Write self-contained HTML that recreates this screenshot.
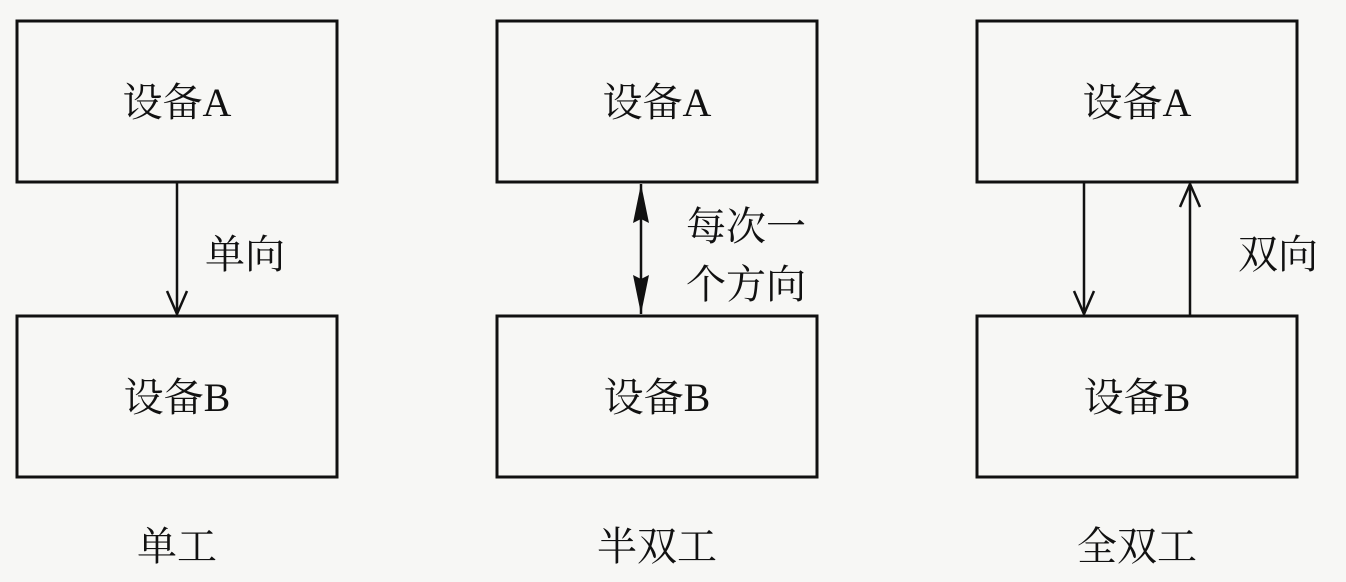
<!DOCTYPE html>
<html><head><meta charset="utf-8"><style>
body{margin:0;background:#f7f7f5;}
svg{display:block}
text{font-family:"Liberation Serif","Noto Serif CJK SC","Noto Sans CJK SC",serif;font-size:40px;fill:#111;}
</style></head><body>
<svg width="1346" height="582" viewBox="0 0 1346 582">
<g fill="none" stroke="#111" stroke-width="3">
<rect x="17" y="21" width="320" height="161"/>
<rect x="17" y="316" width="320" height="161"/>
<rect x="497" y="21" width="320" height="161"/>
<rect x="497" y="316" width="320" height="161"/>
<rect x="977" y="21" width="320" height="161"/>
<rect x="977" y="316" width="320" height="161"/>
</g>
<g stroke="#111" stroke-width="2.5" fill="none">
<line x1="177" y1="182" x2="177" y2="314"/>
<path d="M167 291 L177 314 L187 291"/>
<line x1="641" y1="184" x2="641" y2="314"/>
<line x1="1084" y1="182" x2="1084" y2="314"/>
<path d="M1074 291 L1084 314 L1094 291"/>
<line x1="1190" y1="316" x2="1190" y2="184"/>
<path d="M1180 207 L1190 184 L1200 207"/>
</g>
<g fill="#111">
<path d="M641 184 L649 223 L641 219 L633 223 Z"/>
<path d="M641 314 L649 275 L641 279 L633 275 Z"/>
</g>
<g text-anchor="middle">
<text x="177" y="116">设备A</text>
<text x="177" y="411">设备B</text>
<text x="657" y="116">设备A</text>
<text x="657" y="411">设备B</text>
<text x="1137" y="116">设备A</text>
<text x="1137" y="411">设备B</text>
<text x="177" y="560">单工</text>
<text x="657" y="560">半双工</text>
<text x="1137" y="560">全双工</text>
</g>
<text x="205" y="268">单向</text>
<text x="686" y="240">每次一</text>
<text x="686" y="298">个方向</text>
<text x="1238" y="268">双向</text>
</svg>
</body></html>
